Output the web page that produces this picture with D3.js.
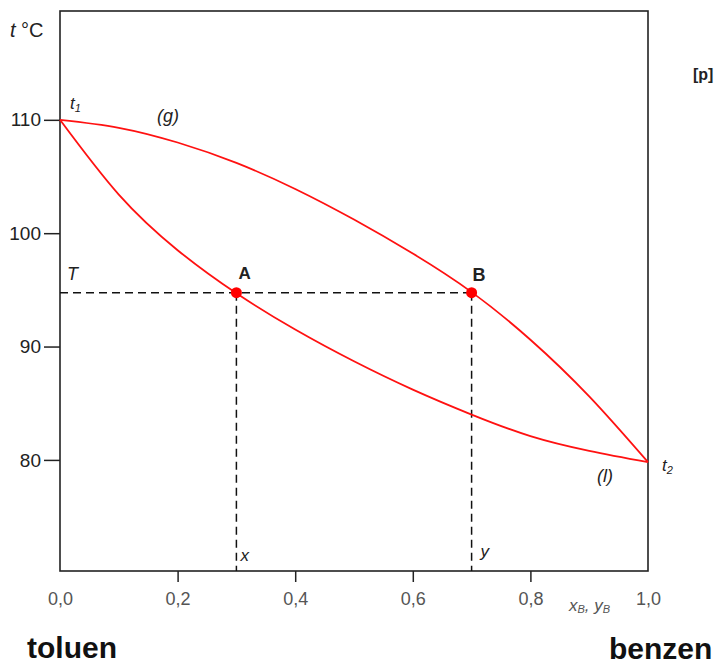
<!DOCTYPE html>
<meta charset="utf-8">
<script src="https://d3js.org/d3.v7.min.js"></script>
<style>
  body { margin: 0; background: #fff; }
  text { font-family: "Liberation Sans", Arial, sans-serif; }
</style>
<div id="chart"></div>
<script>
    // data
    const xTicks = [0, 0.2, 0.4, 0.6, 0.8, 1.0];
    const yTicks = [80, 90, 100, 110];
    const compX = [0, 0.1, 0.2, 0.3, 0.4, 0.5, 0.6, 0.7, 0.8, 0.9, 1.0];
    // liquid curve (l), lower
    const liquidT = [110, 103.4, 98.5, 94.7, 91.5, 88.7, 86.2, 84.0, 82.1, 80.8, 79.8];
    // vapour curve (g), upper
    const vaporT = [110, 109.3, 108.0, 106.2, 103.9, 101.2, 98.2, 94.8, 90.6, 85.6, 79.8];
    // points A and B at temperature T
    const tempT = 94.75;
    const xA = 0.3, yB = 0.7;

    const W = 721, H = 664;
    const svg = d3.select("#chart")
        .append("svg")
        .attr("width", W)
        .attr("height", H);

    const x = d3.scaleLinear().domain([0, 1]).range([60, 648]);
    const y = d3.scaleLinear().domain([70.2, 119.6]).range([571, 11]);

    // axes
    const fmt = d => d.toFixed(1).replace(".", ",");
    const gx = svg.append("g")
        .attr("transform", `translate(0,${y(70.2)})`)
        .call(d3.axisBottom(x).tickValues(xTicks).tickFormat(fmt).tickSize(11).tickPadding(10));
    gx.select(".domain").remove();
    gx.selectAll(".tick line")
        .attr("stroke", "#222").attr("stroke-width", 1.5)
        .attr("display", d => (d === 0 || d === 1) ? "none" : null);
    gx.selectAll("text")
        .attr("font-size", 18).attr("fill", "#555")
        .attr("font-family", "Liberation Sans, Arial, sans-serif");

    const gy = svg.append("g")
        .attr("transform", `translate(${x(0)},0)`)
        .call(d3.axisLeft(y).tickValues(yTicks).tickSize(16).tickPadding(3));
    gy.select(".domain").remove();
    gy.selectAll(".tick line").attr("stroke", "#222").attr("stroke-width", 1.5);
    gy.selectAll("text")
        .attr("font-size", 19).attr("fill", "#222")
        .attr("font-family", "Liberation Sans, Arial, sans-serif");

    // frame
    svg.append("rect")
        .attr("x", x(0)).attr("y", y(119.6))
        .attr("width", x(1) - x(0)).attr("height", y(70.2) - y(119.6))
        .attr("fill", "none").attr("stroke", "#222").attr("stroke-width", 1.6);

    // dashed guides
    const dash = svg.append("g")
        .attr("stroke", "#111").attr("stroke-width", 1.5).attr("stroke-dasharray", "8,5");
    dash.append("line")
        .attr("x1", x(0)).attr("x2", x(yB)).attr("y1", y(tempT)).attr("y2", y(tempT));
    dash.append("line")
        .attr("x1", x(xA)).attr("x2", x(xA)).attr("y1", y(tempT)).attr("y2", y(70.2));
    dash.append("line")
        .attr("x1", x(yB)).attr("x2", x(yB)).attr("y1", y(tempT)).attr("y2", y(70.2));

    // curves
    const line = d3.line()
        .curve(d3.curveNatural)
        .x(d => x(d[0]))
        .y(d => y(d[1]));
    svg.append("path")
        .datum(compX.map((v, i) => [v, liquidT[i]]))
        .attr("fill", "none").attr("stroke", "#ff1111").attr("stroke-width", 1.8)
        .attr("d", line);
    svg.append("path")
        .datum(compX.map((v, i) => [v, vaporT[i]]))
        .attr("fill", "none").attr("stroke", "#ff1111").attr("stroke-width", 1.8)
        .attr("d", line);

    // points
    svg.selectAll("circle.pt")
        .data([[xA, tempT], [yB, tempT]])
        .join("circle")
        .attr("class", "pt")
        .attr("cx", d => x(d[0])).attr("cy", d => y(d[1]))
        .attr("r", 5.5).attr("fill", "#ff0000");

    // labels
    const lab = svg.append("g").attr("fill", "#222");
    const tc = lab.append("text").attr("x", 10).attr("y", 37).attr("font-size", 20);
    tc.append("tspan").attr("font-style", "italic").text("t");
    tc.append("tspan").text(" °C");

    lab.append("text").attr("x", 693).attr("y", 80)
        .attr("font-size", 16).attr("font-weight", "bold").text("[p]");

    const t1 = lab.append("text").attr("x", 70).attr("y", 109).attr("font-size", 17).attr("font-style", "italic");
    t1.append("tspan").text("t");
    t1.append("tspan").attr("font-size", 11).attr("dy", 3).text("1");

    lab.append("text").attr("x", 157).attr("y", 122)
        .attr("font-size", 18).attr("font-style", "italic").text("(g)");

    lab.append("text").attr("x", 67).attr("y", 280)
        .attr("font-size", 18).attr("font-style", "italic").text("T");

    lab.append("text").attr("x", x(xA) + 2).attr("y", 279)
        .attr("font-size", 17).attr("font-weight", "bold").text("A");
    lab.append("text").attr("x", x(yB) + 1).attr("y", 281)
        .attr("font-size", 18).attr("font-weight", "bold").text("B");

    lab.append("text").attr("x", 597).attr("y", 482)
        .attr("font-size", 18).attr("font-style", "italic").text("(l)");

    const t2 = lab.append("text").attr("x", 662).attr("y", 471).attr("font-size", 17).attr("font-style", "italic");
    t2.append("tspan").text("t");
    t2.append("tspan").attr("font-size", 11).attr("dy", 3).text("2");

    lab.append("text").attr("x", x(xA) + 4).attr("y", 561)
        .attr("font-size", 17).attr("font-style", "italic").text("x");
    lab.append("text").attr("x", x(yB) + 9).attr("y", 557)
        .attr("font-size", 17).attr("font-style", "italic").text("y");

    const xb = svg.append("text").attr("x", 569).attr("y", 611)
        .attr("font-size", 17).attr("font-style", "italic").attr("fill", "#555");
    xb.append("tspan").text("x");
    xb.append("tspan").attr("font-size", 11).attr("dy", 2).text("B");
    xb.append("tspan").attr("dy", -2).text(", y");
    xb.append("tspan").attr("font-size", 11).attr("dy", 2).text("B");

    lab.append("text").attr("x", 27).attr("y", 658)
        .attr("font-size", 30).attr("font-weight", "bold").attr("fill", "#111").text("toluen");
    lab.append("text").attr("x", 609).attr("y", 659)
        .attr("font-size", 30).attr("font-weight", "bold").attr("fill", "#111").text("benzen");
</script>
